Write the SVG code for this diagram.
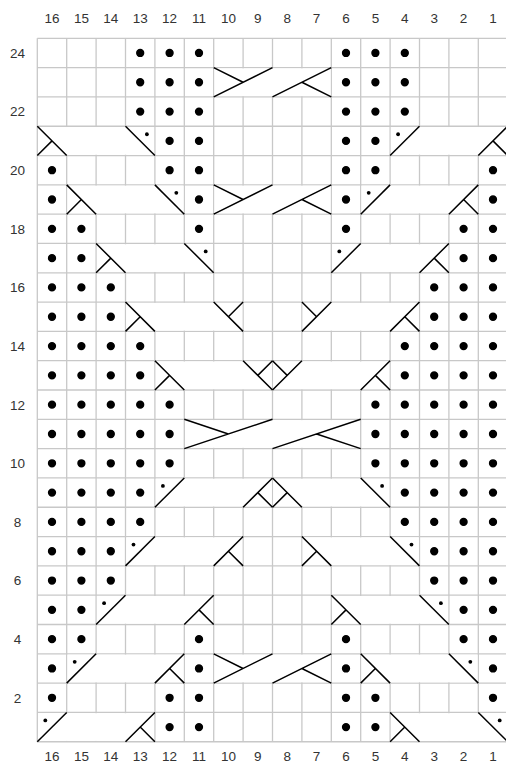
<svg xmlns="http://www.w3.org/2000/svg" xmlns:xlink="http://www.w3.org/1999/xlink" width="506" height="763" viewBox="0 0 506 763">
<style>
.lbl{font-family:"Liberation Sans",Arial,sans-serif;font-size:13.5px;fill:#333;text-anchor:middle}
.grid line{stroke:#c8c8c8;stroke-width:1.3}
.cv{fill:#fff}
</style>
<defs>
<circle id="p" cx="14.7" cy="14.66" r="3.4" fill="#000"/>
<path id="A" d="M0,0L29.4,29.31M0,29.31L14.7,14.66"/>
<g id="B"><path d="M0,29.31L29.4,0"/><circle cx="8" cy="8" r="1.9" fill="#000" stroke="none"/></g>
<path id="C" d="M0,29.31L29.4,0M14.7,14.66L29.4,29.31"/>
<g id="D"><path d="M0,0L29.4,29.31"/><circle cx="21.4" cy="8" r="1.9" fill="#000" stroke="none"/></g>
<path id="E" d="M0,29.31L29.4,0M0,0L14.7,14.66"/>
<path id="F" d="M0,0L29.4,29.31M14.7,14.66L29.4,0"/>
<path id="X4" d="M0,29.31L58.8,0M0,0L29.4,14.66M58.8,29.31L117.6,0M88.2,14.66L117.6,29.31"/>
<path id="X6" d="M0,29.31L88.2,0M0,0L44.1,14.66M88.2,29.31L176.4,0M132.3,14.66L176.4,29.31"/>
</defs>
<rect width="506" height="763" fill="#fff"/>
<g class="grid">
<line x1="37.3" y1="38.3" x2="507.7" y2="38.3"/><line x1="37.3" y1="67.61" x2="507.7" y2="67.61"/><line x1="37.3" y1="96.92" x2="507.7" y2="96.92"/><line x1="37.3" y1="126.23" x2="507.7" y2="126.23"/><line x1="37.3" y1="155.54" x2="507.7" y2="155.54"/><line x1="37.3" y1="184.85" x2="507.7" y2="184.85"/><line x1="37.3" y1="214.16" x2="507.7" y2="214.16"/><line x1="37.3" y1="243.47" x2="507.7" y2="243.47"/><line x1="37.3" y1="272.78" x2="507.7" y2="272.78"/><line x1="37.3" y1="302.09" x2="507.7" y2="302.09"/><line x1="37.3" y1="331.4" x2="507.7" y2="331.4"/><line x1="37.3" y1="360.71" x2="507.7" y2="360.71"/><line x1="37.3" y1="390.02" x2="507.7" y2="390.02"/><line x1="37.3" y1="419.33" x2="507.7" y2="419.33"/><line x1="37.3" y1="448.64" x2="507.7" y2="448.64"/><line x1="37.3" y1="477.95" x2="507.7" y2="477.95"/><line x1="37.3" y1="507.26" x2="507.7" y2="507.26"/><line x1="37.3" y1="536.57" x2="507.7" y2="536.57"/><line x1="37.3" y1="565.88" x2="507.7" y2="565.88"/><line x1="37.3" y1="595.19" x2="507.7" y2="595.19"/><line x1="37.3" y1="624.5" x2="507.7" y2="624.5"/><line x1="37.3" y1="653.81" x2="507.7" y2="653.81"/><line x1="37.3" y1="683.12" x2="507.7" y2="683.12"/><line x1="37.3" y1="712.43" x2="507.7" y2="712.43"/><line x1="37.3" y1="741.74" x2="507.7" y2="741.74"/>
<line x1="37.3" y1="38.3" x2="37.3" y2="741.74"/><line x1="66.7" y1="38.3" x2="66.7" y2="741.74"/><line x1="96.1" y1="38.3" x2="96.1" y2="741.74"/><line x1="125.5" y1="38.3" x2="125.5" y2="741.74"/><line x1="154.9" y1="38.3" x2="154.9" y2="741.74"/><line x1="184.3" y1="38.3" x2="184.3" y2="741.74"/><line x1="213.7" y1="38.3" x2="213.7" y2="741.74"/><line x1="243.1" y1="38.3" x2="243.1" y2="741.74"/><line x1="272.5" y1="38.3" x2="272.5" y2="741.74"/><line x1="301.9" y1="38.3" x2="301.9" y2="741.74"/><line x1="331.3" y1="38.3" x2="331.3" y2="741.74"/><line x1="360.7" y1="38.3" x2="360.7" y2="741.74"/><line x1="390.1" y1="38.3" x2="390.1" y2="741.74"/><line x1="419.5" y1="38.3" x2="419.5" y2="741.74"/><line x1="448.9" y1="38.3" x2="448.9" y2="741.74"/><line x1="478.3" y1="38.3" x2="478.3" y2="741.74"/>
</g>
<g id="labels" class="lbl">
<text x="52" y="23">16</text><text x="81.4" y="23">15</text><text x="110.8" y="23">14</text><text x="140.2" y="23">13</text><text x="169.6" y="23">12</text><text x="199" y="23">11</text><text x="228.4" y="23">10</text><text x="257.8" y="23">9</text><text x="287.2" y="23">8</text><text x="316.6" y="23">7</text><text x="346" y="23">6</text><text x="375.4" y="23">5</text><text x="404.8" y="23">4</text><text x="434.2" y="23">3</text><text x="463.6" y="23">2</text><text x="493" y="23">1</text>
<text x="52" y="760.5">16</text><text x="81.4" y="760.5">15</text><text x="110.8" y="760.5">14</text><text x="140.2" y="760.5">13</text><text x="169.6" y="760.5">12</text><text x="199" y="760.5">11</text><text x="228.4" y="760.5">10</text><text x="257.8" y="760.5">9</text><text x="287.2" y="760.5">8</text><text x="316.6" y="760.5">7</text><text x="346" y="760.5">6</text><text x="375.4" y="760.5">5</text><text x="404.8" y="760.5">4</text><text x="434.2" y="760.5">3</text><text x="463.6" y="760.5">2</text><text x="493" y="760.5">1</text>
<text x="17.5" y="57.7">24</text><text x="17.5" y="116.4">22</text><text x="17.5" y="175">20</text><text x="17.5" y="233.6">18</text><text x="17.5" y="292.2">16</text><text x="17.5" y="350.9">14</text><text x="17.5" y="409.5">12</text><text x="17.5" y="468.1">10</text><text x="17.5" y="526.7">8</text><text x="17.5" y="585.3">6</text><text x="17.5" y="644">4</text><text x="17.5" y="702.6">2</text>
</g>
<g id="rows" stroke="#000" stroke-width="1.5" fill="none">
<g id="row-24" transform="translate(37.3,38.3)"><use href="#p" x="88.2"/><use href="#p" x="117.6"/><use href="#p" x="147"/><use href="#p" x="294"/><use href="#p" x="323.4"/><use href="#p" x="352.8"/></g>
<g id="row-23" transform="translate(37.3,67.61)"><rect class="cv" stroke="none" x="177.2" y="0.8" width="116" height="27.7"/><use href="#p" x="88.2"/><use href="#p" x="117.6"/><use href="#p" x="147"/><use href="#p" x="294"/><use href="#p" x="323.4"/><use href="#p" x="352.8"/><use href="#X4" x="176.4"/></g>
<g id="row-22" transform="translate(37.3,96.92)"><use href="#p" x="88.2"/><use href="#p" x="117.6"/><use href="#p" x="147"/><use href="#p" x="294"/><use href="#p" x="323.4"/><use href="#p" x="352.8"/></g>
<g id="row-21" transform="translate(37.3,126.23)"><rect class="cv" stroke="none" x="0.8" y="0.8" width="116" height="27.7"/><rect class="cv" stroke="none" x="353.6" y="0.8" width="116" height="27.7"/><use href="#p" x="117.6"/><use href="#p" x="147"/><use href="#p" x="294"/><use href="#p" x="323.4"/><use href="#A" x="0"/><use href="#D" x="88.2"/><use href="#B" x="352.8"/><use href="#C" x="441"/></g>
<g id="row-20" transform="translate(37.3,155.54)"><use href="#p" x="0"/><use href="#p" x="117.6"/><use href="#p" x="147"/><use href="#p" x="294"/><use href="#p" x="323.4"/><use href="#p" x="441"/></g>
<g id="row-19" transform="translate(37.3,184.85)"><rect class="cv" stroke="none" x="30.2" y="0.8" width="116" height="27.7"/><rect class="cv" stroke="none" x="177.2" y="0.8" width="116" height="27.7"/><rect class="cv" stroke="none" x="324.2" y="0.8" width="116" height="27.7"/><use href="#p" x="0"/><use href="#p" x="147"/><use href="#p" x="294"/><use href="#p" x="441"/><use href="#A" x="29.4"/><use href="#D" x="117.6"/><use href="#X4" x="176.4"/><use href="#B" x="323.4"/><use href="#C" x="411.6"/></g>
<g id="row-18" transform="translate(37.3,214.16)"><use href="#p" x="0"/><use href="#p" x="29.4"/><use href="#p" x="147"/><use href="#p" x="294"/><use href="#p" x="411.6"/><use href="#p" x="441"/></g>
<g id="row-17" transform="translate(37.3,243.47)"><rect class="cv" stroke="none" x="59.6" y="0.8" width="116" height="27.7"/><rect class="cv" stroke="none" x="294.8" y="0.8" width="116" height="27.7"/><use href="#p" x="0"/><use href="#p" x="29.4"/><use href="#p" x="411.6"/><use href="#p" x="441"/><use href="#A" x="58.8"/><use href="#D" x="147"/><use href="#B" x="294"/><use href="#C" x="382.2"/></g>
<g id="row-16" transform="translate(37.3,272.78)"><use href="#p" x="0"/><use href="#p" x="29.4"/><use href="#p" x="58.8"/><use href="#p" x="382.2"/><use href="#p" x="411.6"/><use href="#p" x="441"/></g>
<g id="row-15" transform="translate(37.3,302.09)"><rect class="cv" stroke="none" x="89" y="0.8" width="116" height="27.7"/><rect class="cv" stroke="none" x="265.4" y="0.8" width="116" height="27.7"/><use href="#p" x="0"/><use href="#p" x="29.4"/><use href="#p" x="58.8"/><use href="#p" x="382.2"/><use href="#p" x="411.6"/><use href="#p" x="441"/><use href="#A" x="88.2"/><use href="#F" x="176.4"/><use href="#E" x="264.6"/><use href="#C" x="352.8"/></g>
<g id="row-14" transform="translate(37.3,331.4)"><use href="#p" x="0"/><use href="#p" x="29.4"/><use href="#p" x="58.8"/><use href="#p" x="88.2"/><use href="#p" x="352.8"/><use href="#p" x="382.2"/><use href="#p" x="411.6"/><use href="#p" x="441"/></g>
<g id="row-13" transform="translate(37.3,360.71)"><rect class="cv" stroke="none" x="118.4" y="0.8" width="116" height="27.7"/><rect class="cv" stroke="none" x="236" y="0.8" width="116" height="27.7"/><use href="#p" x="0"/><use href="#p" x="29.4"/><use href="#p" x="58.8"/><use href="#p" x="88.2"/><use href="#p" x="352.8"/><use href="#p" x="382.2"/><use href="#p" x="411.6"/><use href="#p" x="441"/><use href="#A" x="117.6"/><use href="#F" x="205.8"/><use href="#E" x="235.2"/><use href="#C" x="323.4"/></g>
<g id="row-12" transform="translate(37.3,390.02)"><use href="#p" x="0"/><use href="#p" x="29.4"/><use href="#p" x="58.8"/><use href="#p" x="88.2"/><use href="#p" x="117.6"/><use href="#p" x="323.4"/><use href="#p" x="352.8"/><use href="#p" x="382.2"/><use href="#p" x="411.6"/><use href="#p" x="441"/></g>
<g id="row-11" transform="translate(37.3,419.33)"><rect class="cv" stroke="none" x="147.8" y="0.8" width="174.8" height="27.7"/><use href="#p" x="0"/><use href="#p" x="29.4"/><use href="#p" x="58.8"/><use href="#p" x="88.2"/><use href="#p" x="117.6"/><use href="#p" x="323.4"/><use href="#p" x="352.8"/><use href="#p" x="382.2"/><use href="#p" x="411.6"/><use href="#p" x="441"/><use href="#X6" x="147"/></g>
<g id="row-10" transform="translate(37.3,448.64)"><use href="#p" x="0"/><use href="#p" x="29.4"/><use href="#p" x="58.8"/><use href="#p" x="88.2"/><use href="#p" x="117.6"/><use href="#p" x="323.4"/><use href="#p" x="352.8"/><use href="#p" x="382.2"/><use href="#p" x="411.6"/><use href="#p" x="441"/></g>
<g id="row-9" transform="translate(37.3,477.95)"><rect class="cv" stroke="none" x="118.4" y="0.8" width="116" height="27.7"/><rect class="cv" stroke="none" x="236" y="0.8" width="116" height="27.7"/><use href="#p" x="0"/><use href="#p" x="29.4"/><use href="#p" x="58.8"/><use href="#p" x="88.2"/><use href="#p" x="352.8"/><use href="#p" x="382.2"/><use href="#p" x="411.6"/><use href="#p" x="441"/><use href="#B" x="117.6"/><use href="#C" x="205.8"/><use href="#A" x="235.2"/><use href="#D" x="323.4"/></g>
<g id="row-8" transform="translate(37.3,507.26)"><use href="#p" x="0"/><use href="#p" x="29.4"/><use href="#p" x="58.8"/><use href="#p" x="88.2"/><use href="#p" x="352.8"/><use href="#p" x="382.2"/><use href="#p" x="411.6"/><use href="#p" x="441"/></g>
<g id="row-7" transform="translate(37.3,536.57)"><rect class="cv" stroke="none" x="89" y="0.8" width="116" height="27.7"/><rect class="cv" stroke="none" x="265.4" y="0.8" width="116" height="27.7"/><use href="#p" x="0"/><use href="#p" x="29.4"/><use href="#p" x="58.8"/><use href="#p" x="382.2"/><use href="#p" x="411.6"/><use href="#p" x="441"/><use href="#B" x="88.2"/><use href="#C" x="176.4"/><use href="#A" x="264.6"/><use href="#D" x="352.8"/></g>
<g id="row-6" transform="translate(37.3,565.88)"><use href="#p" x="0"/><use href="#p" x="29.4"/><use href="#p" x="58.8"/><use href="#p" x="382.2"/><use href="#p" x="411.6"/><use href="#p" x="441"/></g>
<g id="row-5" transform="translate(37.3,595.19)"><rect class="cv" stroke="none" x="59.6" y="0.8" width="116" height="27.7"/><rect class="cv" stroke="none" x="294.8" y="0.8" width="116" height="27.7"/><use href="#p" x="0"/><use href="#p" x="29.4"/><use href="#p" x="411.6"/><use href="#p" x="441"/><use href="#B" x="58.8"/><use href="#C" x="147"/><use href="#A" x="294"/><use href="#D" x="382.2"/></g>
<g id="row-4" transform="translate(37.3,624.5)"><use href="#p" x="0"/><use href="#p" x="29.4"/><use href="#p" x="147"/><use href="#p" x="294"/><use href="#p" x="411.6"/><use href="#p" x="441"/></g>
<g id="row-3" transform="translate(37.3,653.81)"><rect class="cv" stroke="none" x="30.2" y="0.8" width="116" height="27.7"/><rect class="cv" stroke="none" x="177.2" y="0.8" width="116" height="27.7"/><rect class="cv" stroke="none" x="324.2" y="0.8" width="116" height="27.7"/><use href="#p" x="0"/><use href="#p" x="147"/><use href="#p" x="294"/><use href="#p" x="441"/><use href="#B" x="29.4"/><use href="#C" x="117.6"/><use href="#X4" x="176.4"/><use href="#A" x="323.4"/><use href="#D" x="411.6"/></g>
<g id="row-2" transform="translate(37.3,683.12)"><use href="#p" x="0"/><use href="#p" x="117.6"/><use href="#p" x="147"/><use href="#p" x="294"/><use href="#p" x="323.4"/><use href="#p" x="441"/></g>
<g id="row-1" transform="translate(37.3,712.43)"><rect class="cv" stroke="none" x="0.8" y="0.8" width="116" height="27.7"/><rect class="cv" stroke="none" x="353.6" y="0.8" width="116" height="27.7"/><use href="#p" x="117.6"/><use href="#p" x="147"/><use href="#p" x="294"/><use href="#p" x="323.4"/><use href="#B" x="0"/><use href="#C" x="88.2"/><use href="#A" x="352.8"/><use href="#D" x="441"/></g>
</g>
</svg>
